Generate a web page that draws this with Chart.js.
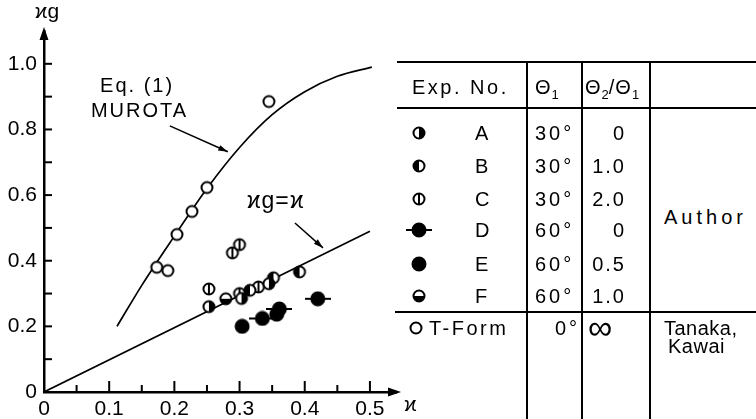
<!DOCTYPE html>
<html><head><meta charset="utf-8">
<script src="https://cdn.jsdelivr.net/npm/chart.js@4.4.1/dist/chart.umd.min.js"></script>
<style>
body{margin:0;background:#fff;}
#wrap{position:relative;width:756px;height:419px;overflow:hidden;font-family:"Liberation Sans",Arial,"DejaVu Sans",sans-serif;color:#000;background:#fff;}
#cv{position:absolute;left:0;top:0;}
.t{position:absolute;font-size:20px;line-height:20px;letter-spacing:3px;white-space:nowrap;}
.t sub{font-size:13px;vertical-align:-5px;letter-spacing:0;}
.ln{position:absolute;background:#000;}
.sym{position:absolute;}
</style></head>
<body>
<div id="wrap">
<canvas id="cv" width="420" height="419"></canvas>
</div>
<script>
// ---- data ----
const tFormX = [0.173, 0.19, 0.204, 0.227, 0.25, 0.345];
const tFormY = [0.38, 0.37, 0.48, 0.55, 0.623, 0.885];
const expAX = [0.253, 0.303, 0.345];
const expAY = [0.26, 0.285, 0.33];
const expBX = [0.316, 0.352, 0.392];
const expBY = [0.31, 0.348, 0.366];
const expCX = [0.253, 0.289, 0.30, 0.30, 0.329];
const expCY = [0.314, 0.424, 0.449, 0.30, 0.32];
const expDX = [0.335, 0.361, 0.42];
const expDY = [0.224, 0.253, 0.284];
const expEX = [0.304, 0.357];
const expEY = [0.20, 0.237];
const expFX = [0.279];
const expFY = [0.284];
const murotaX = [0.112, 0.15, 0.2, 0.25, 0.3, 0.35, 0.4, 0.45, 0.503];
const murotaY = [0.20, 0.325, 0.475, 0.62, 0.745, 0.845, 0.915, 0.962, 0.99];
const identityX = [0, 0.5];
const identityY = [0, 0.49];
const xTickValues = [0, 0.05, 0.1, 0.15, 0.2, 0.25, 0.3, 0.35, 0.4, 0.45, 0.5];
const xTickLabels = ['0', '', '0.1', '', '0.2', '', '0.3', '', '0.4', '', '0.5'];
const yTickValues = [0, 0.1, 0.2, 0.3, 0.4, 0.5, 0.6, 0.7, 0.8, 0.9, 1.0];
const yTickLabels = ['0', '', '0.2', '', '0.4', '', '0.6', '', '0.8', '', '1.0'];
const legendIds = ['A', 'B', 'C', 'D', 'E', 'F'];
const legendTheta1 = ['30°', '30°', '30°', '60°', '60°', '60°'];
const legendRatio = ['0', '1.0', '2.0', '0', '0.5', '1.0'];

const FONT = '"Liberation Sans", Arial, "DejaVu Sans", sans-serif';
const zip = (xs, ys) => xs.map((x, i) => ({x, y: ys[i]}));

function makeSymbol(type) {
  const big = (type === 'D' || type === 'E');
  const r = big ? 6.5 : 5.5;
  const w = type === 'D' ? 26 : 16, h = 16;
  const c = document.createElement('canvas'); c.width = w; c.height = h;
  const g = c.getContext('2d'); const cx = w / 2, cy = h / 2;
  g.strokeStyle = '#000';
  if (type === 'D') { g.lineWidth = 2; g.beginPath(); g.moveTo(0, cy); g.lineTo(w, cy); g.stroke(); }
  g.beginPath(); g.arc(cx, cy, r, 0, Math.PI * 2); g.fillStyle = big ? '#000' : '#fff'; g.fill();
  g.fillStyle = '#000';
  const half = (a0, a1) => { g.beginPath(); g.moveTo(cx, cy); g.arc(cx, cy, r, a0, a1); g.closePath(); g.fill(); };
  if (type === 'A') half(-Math.PI / 2, Math.PI / 2);
  if (type === 'B') half(Math.PI / 2, Math.PI * 1.5);
  if (type === 'F') half(0, Math.PI);
  g.lineWidth = 2; g.beginPath(); g.arc(cx, cy, r, 0, Math.PI * 2); g.stroke();
  if (type === 'C') { g.beginPath(); g.moveTo(cx, cy - r); g.lineTo(cx, cy + r); g.stroke(); }
  return c;
}
const SYM = {};
['A','B','C','D','E','F','O'].forEach(k => SYM[k] = makeSymbol(k));

function pts(xs, ys, key) {
  return {data: zip(xs, ys), pointStyle: SYM[key], pointRadius: 6, showLine: false, order: 0};
}

const deco = {
  id: 'deco',
  afterDraw(chart) {
    const {ctx, chartArea: a, scales: {x, y}} = chart;
    ctx.save();
    ctx.strokeStyle = '#000'; ctx.fillStyle = '#000'; ctx.lineWidth = 2;
    // inward ticks
    x.ticks.forEach(t => {
      const px = x.getPixelForValue(t.value);
      const major = Math.abs(t.value * 10 - Math.round(t.value * 10)) < 1e-6;
      ctx.beginPath(); ctx.moveTo(px, a.bottom); ctx.lineTo(px, a.bottom - (major ? 11 : 7)); ctx.stroke();
    });
    y.ticks.forEach(t => {
      const py = y.getPixelForValue(t.value);
      ctx.beginPath(); ctx.moveTo(a.left, py); ctx.lineTo(a.left + 8, py); ctx.stroke();
    });
    // arrowheads
    ctx.beginPath(); ctx.moveTo(a.left, a.top - 4); ctx.lineTo(a.left - 4.5, a.top + 9); ctx.lineTo(a.left + 4.5, a.top + 9); ctx.closePath(); ctx.fill();
    ctx.beginPath(); ctx.moveTo(a.right + 5, a.bottom); ctx.lineTo(a.right - 8, a.bottom - 4.5); ctx.lineTo(a.right - 8, a.bottom + 4.5); ctx.closePath(); ctx.fill();
    // axis titles
    ctx.textBaseline = 'alphabetic';
    ctx.font = '21px ' + FONT;
    ctx.textAlign = 'center';
    ctx.fillText('ϰg', a.left + 3, a.top - 13);
    ctx.textAlign = 'left';
    ctx.fillText('ϰ', a.right + 8, a.bottom + 19);
    // annotations
    const arrow = (x0, y0, x1, y1) => {
      const p0 = [x.getPixelForValue(x0), y.getPixelForValue(y0)];
      const p1 = [x.getPixelForValue(x1), y.getPixelForValue(y1)];
      ctx.lineWidth = 1.5;
      ctx.beginPath(); ctx.moveTo(p0[0], p0[1]); ctx.lineTo(p1[0], p1[1]); ctx.stroke();
      const ang = Math.atan2(p1[1] - p0[1], p1[0] - p0[0]);
      ctx.beginPath(); ctx.moveTo(p1[0], p1[1]);
      ctx.lineTo(p1[0] - 10 * Math.cos(ang - 0.3), p1[1] - 10 * Math.sin(ang - 0.3));
      ctx.lineTo(p1[0] - 10 * Math.cos(ang + 0.3), p1[1] - 10 * Math.sin(ang + 0.3));
      ctx.closePath(); ctx.fill();
    };
    arrow(0.193, 0.811, 0.282, 0.732);
    arrow(0.385, 0.515, 0.428, 0.439);
    ctx.font = '20px ' + FONT;
    ctx.textBaseline = 'middle';
    try { ctx.letterSpacing = '2px'; } catch (e) {}
    ctx.fillText('Eq. (1)', x.getPixelForValue(0.086), y.getPixelForValue(0.93));
    ctx.fillText('MUROTA', x.getPixelForValue(0.072), y.getPixelForValue(0.854));
    try { ctx.letterSpacing = '1px'; } catch (e) {}
    ctx.textBaseline = 'alphabetic';
    ctx.font = '23px ' + FONT;
    ctx.fillText('ϰg=ϰ', x.getPixelForValue(0.311), y.getPixelForValue(0.561));
    ctx.restore();
  }
};

new Chart(document.getElementById('cv'), {
  type: 'scatter',
  data: {datasets: [
    pts(tFormX, tFormY, 'O'),
    pts(expAX, expAY, 'A'),
    pts(expBX, expBY, 'B'),
    pts(expCX, expCY, 'C'),
    pts(expDX, expDY, 'D'),
    pts(expEX, expEY, 'E'),
    pts(expFX, expFY, 'F'),
    {data: zip(murotaX, murotaY), showLine: true, borderColor: '#000', borderWidth: 1.7, pointRadius: 0, tension: 0.4, cubicInterpolationMode: 'monotone', order: 2},
    {data: zip(identityX, identityY), showLine: true, borderColor: '#000', borderWidth: 1.7, pointRadius: 0, order: 2}
  ]},
  options: {
    responsive: false, animation: false, events: [],
    layout: {padding: {top: 31, right: 24, left: 0, bottom: 0}},
    plugins: {legend: {display: false}, tooltip: {enabled: false}},
    scales: {
      x: {
        type: 'linear', min: 0, max: 0.54,
        afterBuildTicks: s => { s.ticks = xTickValues.map(v => ({value: v})); },
        afterFit: s => { s.height = 27; },
        grid: {drawOnChartArea: false, drawTicks: false},
        border: {display: true, color: '#000', width: 2.5},
        ticks: {autoSkip: false, maxRotation: 0, padding: 5, color: '#000', font: {family: FONT, size: 21},
          callback: (v, i) => xTickLabels[i]}
      },
      y: {
        type: 'linear', min: 0, max: 1.1,
        afterBuildTicks: s => { s.ticks = yTickValues.map(v => ({value: v})); },
        afterFit: s => { s.width = 44; },
        grid: {drawOnChartArea: false, drawTicks: false},
        border: {display: true, color: '#000', width: 2.5},
        ticks: {autoSkip: false, padding: 7, color: '#000', font: {family: FONT, size: 21},
          callback: (v, i) => yTickLabels[i]}
      }
    }
  },
  plugins: [deco]
});

// ---- table (HTML) ----
const wrap = document.getElementById('wrap');
function line(l, t, w, h) { const d = document.createElement('div'); d.className = 'ln'; Object.assign(d.style, {left: l + 'px', top: t + 'px', width: w + 'px', height: h + 'px'}); wrap.appendChild(d); }
function text(html, l, cy, extra) { const d = document.createElement('div'); d.className = 't'; d.innerHTML = html; d.style.left = l + 'px'; d.style.top = (cy - 10) + 'px'; if (extra) Object.assign(d.style, extra); wrap.appendChild(d); return d; }
function sym(key, cx, cy) { const im = document.createElement('img'); im.src = SYM[key].toDataURL(); im.className = 'sym'; im.style.left = (cx - SYM[key].width / 2) + 'px'; im.style.top = (cy - SYM[key].height / 2) + 'px'; wrap.appendChild(im); }

line(397, 61, 359, 2);
line(397, 107, 359, 2);
line(395, 311, 361, 2);
line(526, 61, 2, 358);
line(581, 61, 2, 358);
line(649, 61, 2, 358);

text('Exp.&nbsp;No.', 412, 87, {letterSpacing: '2.5px'});
text('Θ<sub>1</sub>', 535, 87, {letterSpacing: '1px'});
text('Θ<sub>2</sub>/Θ<sub>1</sub>', 585, 87, {letterSpacing: '1px'});

const rowY = [133, 166, 199, 230, 264, 296];
legendIds.forEach((id, i) => {
  sym(id, 419, rowY[i]);
  text(id, 475, rowY[i]);
  text(legendTheta1[i], 535, rowY[i]);
  const d = text(legendRatio[i], 0, rowY[i], {letterSpacing: '2px'});
  d.style.left = ''; d.style.right = (756 - 626) + 'px';
});
text('Author', 664, 217, {letterSpacing: '4px'});
sym('O', 416, 328);
text('T-Form', 429, 328, {letterSpacing: '2.5px'});
text('0°', 555, 328);
text('∞', 588, 327, {fontSize: '34px', lineHeight: '20px', letterSpacing: '0'});
text('Tanaka,', 664, 328, {letterSpacing: '0.5px'});
text('Kawai', 668, 346, {letterSpacing: '0.5px'});
</script>
</body></html>
